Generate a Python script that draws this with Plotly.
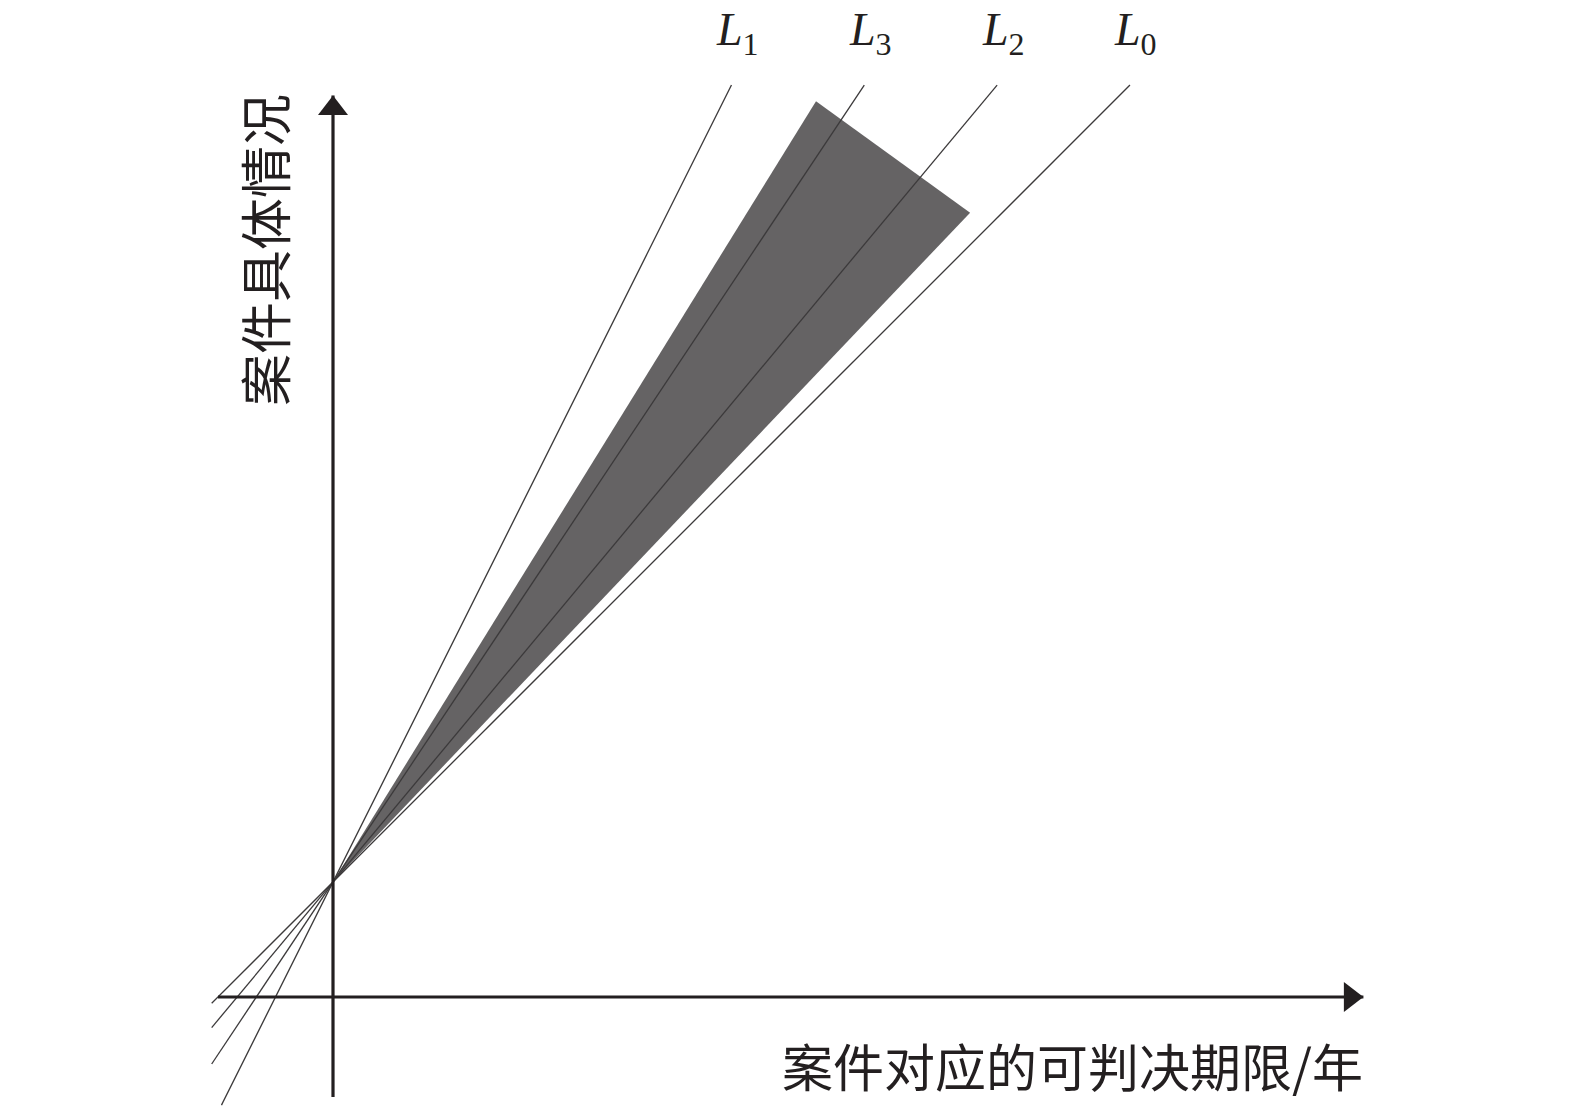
import plotly.graph_objects as go

# ---------------- data ----------------
line_names = ["L0", "L1", "L2", "L3"]
line_slopes = [1.0, 2.0, 1.2, 1.5]
line_intercept = 1.0
line_x_start = [-1.055, -0.97, -1.055, -1.055]
line_y_top = 7.93

band_x = [0.0, 4.20, 5.54]
band_y = [1.0, 7.79, 6.82]

x_axis_extent = [-1.0, 8.96]
y_axis_extent = [-0.87, 7.84]

x_title = "案件对应的可判决期限/年"
y_title = "案件具体情况"

# ---------------- layout geometry ----------------
W, H = 1575, 1106
PX = 115.0            # pixels per data unit (both axes)
OX, OY = 333.0, 997.0 # pixel position of the axis origin
x_range = [-OX / PX, (W - OX) / PX]
y_range = [-(H - OY) / PX, OY / PX]

AXIS_COLOR = "#231f20"
LINE_COLOR = "#3c3a3b"
BAND_COLOR = "#656364"

fig = go.Figure()

# shaded band
fig.add_trace(go.Scatter(
    x=band_x + [band_x[0]], y=band_y + [band_y[0]],
    mode="lines", fill="toself", fillcolor=BAND_COLOR,
    line=dict(width=0, color=BAND_COLOR), hoverinfo="skip", showlegend=False))

# lines L0..L3
for name, k, xs in zip(line_names, line_slopes, line_x_start):
    x_end = (line_y_top - line_intercept) / k
    xs_list = [xs, x_end]
    ys_list = [line_intercept + k * v for v in xs_list]
    fig.add_trace(go.Scatter(
        x=xs_list, y=ys_list, mode="lines",
        line=dict(color=LINE_COLOR, width=1.3),
        hoverinfo="skip", showlegend=False))
    fig.add_annotation(
        x=x_end, y=line_y_top, xref="x", yref="y",
        text=f"<i>L</i><sub><span style='font-size:32px'>{name[1:]}</span></sub>",
        showarrow=False,
        xanchor="center", yanchor="middle", xshift=6, yshift=52,
        font=dict(family="Liberation Serif", size=46, color="#231f20"))

# axes
fig.add_trace(go.Scatter(
    x=x_axis_extent, y=[0, 0], mode="lines",
    line=dict(color=AXIS_COLOR, width=3.2), hoverinfo="skip", showlegend=False))
fig.add_trace(go.Scatter(
    x=[0, 0], y=y_axis_extent, mode="lines",
    line=dict(color=AXIS_COLOR, width=3.2), hoverinfo="skip", showlegend=False))

# arrow heads (triangle markers; tip placed at axis end)
ARROW = 26
r = ARROW / 2.0
fig.add_trace(go.Scatter(
    x=[x_axis_extent[1] - r / PX], y=[0], mode="markers",
    marker=dict(symbol="triangle-right", size=ARROW, color=AXIS_COLOR),
    hoverinfo="skip", showlegend=False))
fig.add_trace(go.Scatter(
    x=[0], y=[y_axis_extent[1] - r / PX], mode="markers",
    marker=dict(symbol="triangle-up", size=ARROW, color=AXIS_COLOR),
    hoverinfo="skip", showlegend=False))

# axis titles
fig.add_annotation(
    x=x_axis_extent[1], y=-0.59, xref="x", yref="y",
    text=x_title, showarrow=False, xanchor="right", yanchor="middle", xshift=2,
    font=dict(family="Noto Sans CJK SC", size=51, color="#231f20"))
fig.add_annotation(
    x=-0.609, y=(OY - 250) / PX, xref="x", yref="y",
    text=y_title, showarrow=False, textangle=-90,
    xanchor="center", yanchor="middle",
    font=dict(family="Noto Sans CJK SC", size=52, color="#231f20"))

fig.update_xaxes(range=x_range, visible=False, showgrid=False, zeroline=False)
fig.update_yaxes(range=y_range, visible=False, showgrid=False, zeroline=False)
fig.update_layout(
    width=W, height=H, margin=dict(l=0, r=0, t=0, b=0),
    paper_bgcolor="white", plot_bgcolor="white", showlegend=False)

fig.write_html("out.html", config={"displayModeBar": False},
               post_script="document.body.style.margin='0';document.body.style.overflow='hidden';")
